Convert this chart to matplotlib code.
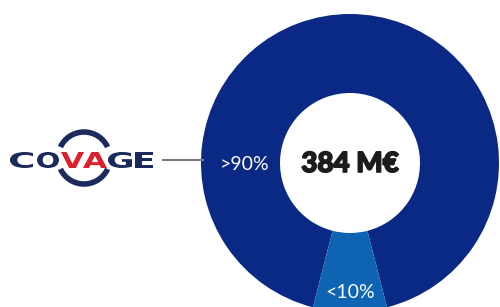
import numpy as np
import matplotlib.pyplot as plt
import matplotlib.patheffects as pe
from matplotlib.patches import Arc, PathPatch
from matplotlib.textpath import TextPath
from matplotlib.font_manager import FontProperties
from matplotlib.transforms import Affine2D

# donnees
parts = [92, 8]
labels = ['>90%', '<10%']
colors = ['#0a2985', '#0f63b3']
total = '384 M€'
logo_letters = ['C', 'O', 'V', 'A', 'G', 'E']
logo_colors = ['#1b2a5c', '#1b2a5c', '#d8212c', '#d8212c', '#1b2a5c', '#1b2a5c']

fig = plt.figure(figsize=(5, 3.07), dpi=100)
ax = fig.add_axes([0, 0, 1, 1])

cx, cy, r_out, r_in = 350, 163, 149, 70
# axe y inverse: 90 deg = vers le bas
start = 90 - parts[1] / sum(parts) * 360 / 2 - parts[0] / sum(parts) * 360
ax.pie(parts, colors=colors, startangle=start, center=(cx, cy), radius=r_out,
       wedgeprops=dict(width=r_out - r_in, linewidth=0), frame=True)
ax.set_xlim(0, 500)
ax.set_ylim(307, 0)
ax.axis('off')

ax.text(cx, cy + 1, total, ha='center', va='center', fontsize=20,
        fontfamily='Lato', fontweight='black', color='#1c1c1c', zorder=5,
        path_effects=[pe.withStroke(linewidth=1.2, foreground='#1c1c1c')])
ax.text(cx - 105, cy + 1, labels[0], ha='center', va='center', fontsize=14,
        fontfamily='Lato', fontweight='normal', color='white', zorder=5)
ax.text(cx, cy + 129, labels[1], ha='center', va='center', fontsize=14,
        fontfamily='Lato', fontweight='normal', color='white', zorder=5)

# logo : lettres elargies
fp = FontProperties(family='DejaVu Sans', weight='bold')
boxes = [(10, 33), (37, 59), (61, 84), (83, 107), (108, 132), (135, 153)]
y0, y1 = 152, 168
for (xa, xb), l, c in zip(boxes, logo_letters, logo_colors):
    tp = TextPath((0, 0), l, size=1, prop=fp)
    ext = tp.get_extents()
    sx = (xb - xa) / ext.width
    sy = (y1 - y0) / ext.height
    tr = Affine2D().translate(-ext.x0, -ext.y0).scale(sx, -sy).translate(xa, y1)
    ax.add_patch(PathPatch(tr.transform_path(tp), color=c, lw=0, zorder=4))
ax.add_patch(Arc((84, 158), 52, 52, theta1=205, theta2=335, lw=4, color='#1b2a5c'))
ax.add_patch(Arc((84, 158), 52, 52, theta1=25, theta2=155, lw=4, color='#1b2a5c'))
ax.plot([163, 203], [160, 160], color='#7a7a7a', lw=1.5)

fig.savefig('out.png', dpi=100)
